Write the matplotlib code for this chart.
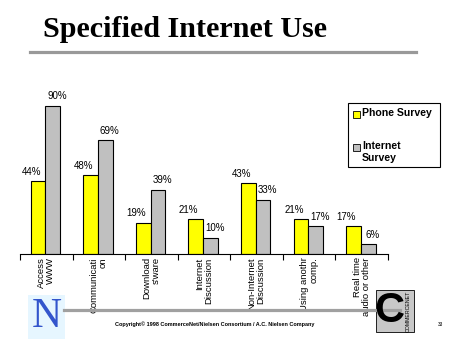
import matplotlib
matplotlib.use("Agg")
import matplotlib.pyplot as plt
from matplotlib.patches import Rectangle
import numpy as np

categories = ["Access\nWWW", "Communicati\non", "Download\ns'ware", "Internet\nDiscussion",
              "Non-Internet\nDiscussion", "Using anothr\ncomp.", "Real time\naudio or other"]
phone_survey = [44, 48, 19, 21, 43, 21, 17]
internet_survey = [90, 69, 39, 10, 33, 17, 6]
series_names = ["Phone Survey", "Internet\nSurvey"]

W, H = 452, 339
fig = plt.figure(figsize=(W / 100, H / 100), dpi=100)
fig.patch.set_facecolor("white")

def fx(px):
    return px / W

def fy(py):
    return 1 - py / H

sans = "Liberation Sans"
serif = "Liberation Serif"

# title and rule below it
fig.text(fx(43), fy(37), "Specified Internet Use", family=serif, weight="bold",
         fontsize=21.7, va="baseline", ha="left")
fig.add_artist(plt.Line2D([fx(30), fx(416)], [fy(51.5), fy(51.5)], color="#999999", lw=2.3))

# bar chart
ax = fig.add_axes([fx(20), fy(254), fx(368), 165 / H])
x = np.arange(len(categories))
bw = 0.28
ax.bar(x - 0.157, phone_survey, bw, color="#FFFF00", edgecolor="black", linewidth=0.8)
ax.bar(x + 0.123, internet_survey, bw, color="#C0C0C0", edgecolor="black", linewidth=0.8)
for i in range(len(categories)):
    ax.annotate(f"{phone_survey[i]}%", (x[i] - 0.157, phone_survey[i]), xytext=(-5, 3),
                textcoords="offset points", ha="center", va="bottom", family=sans, fontsize=7)
    ax.annotate(f"{internet_survey[i]}%", (x[i] + 0.123, internet_survey[i]), xytext=(3, 3),
                textcoords="offset points", ha="center", va="bottom", family=sans, fontsize=7)

ax.set_xlim(-0.5, len(categories) - 0.5)
ax.set_ylim(0, 100)
for s in ["top", "right", "left"]:
    ax.spines[s].set_visible(False)
ax.spines["bottom"].set_linewidth(0.8)
ax.set_yticks([])
ax.set_xticks(np.arange(len(categories) + 1) - 0.5)
ax.set_xticklabels([])
ax.tick_params(axis="x", direction="out", length=4, width=0.8)
ax.set_facecolor("none")

for i, lab in enumerate(categories):
    ax.text(x[i], -2, lab, rotation=90, ha="center", va="top", multialignment="right",
            family=sans, fontsize=6.8, linespacing=1.0)

# legend box
fig.add_artist(Rectangle((fx(348), fy(167)), fx(92), (167 - 103) / H, transform=fig.transFigure,
                         facecolor="white", edgecolor="black", lw=0.8))
colors = ["#FFFF00", "#C0C0C0"]
rows = [114, 147]
for name, c, r in zip(series_names, colors, rows):
    fig.add_artist(Rectangle((fx(353), fy(r + 3.5)), fx(7), 7 / H, transform=fig.transFigure,
                             facecolor=c, edgecolor="black", lw=0.6))
    fig.text(fx(362), fy(r - 6), name, family=sans, weight="bold", fontsize=7.6,
             va="top", ha="left", linespacing=1.2)

# footer
fig.add_artist(plt.Line2D([fx(64), fx(400)], [fy(309.5), fy(309.5)], color="#A0A0A0", lw=2.3))
fig.text(fx(215), fy(324), "Copyright\u00a9 1998 CommerceNet/Nielsen Consortium / A.C. Nielsen Company",
         family=sans, weight="bold", fontsize=4.0, ha="center", va="center")
fig.text(fx(440), fy(325), "33", family=sans, fontsize=3.5, ha="center", va="center")

# left logo
fig.add_artist(Rectangle((fx(28), fy(339)), fx(37), 44 / H, transform=fig.transFigure,
                         facecolor="#E6F6FF", edgecolor="none"))
fig.text(fx(46.5), fy(317), "N", family=serif, fontsize=30, color="#3355CC",
         ha="center", va="center")

# right logo
fig.add_artist(Rectangle((fx(376), fy(332)), fx(38), 42 / H, transform=fig.transFigure,
                         facecolor="#C8C8C8", edgecolor="black", lw=0.6))
fig.text(fx(389), fy(311), "C", family=sans, weight="bold", fontsize=30, color="black",
         ha="center", va="center")
fig.text(fx(408), fy(311), "COMMERCENET", family=sans, fontsize=3.8, rotation=90,
         ha="center", va="center")

fig.savefig("out.png", dpi=100)
